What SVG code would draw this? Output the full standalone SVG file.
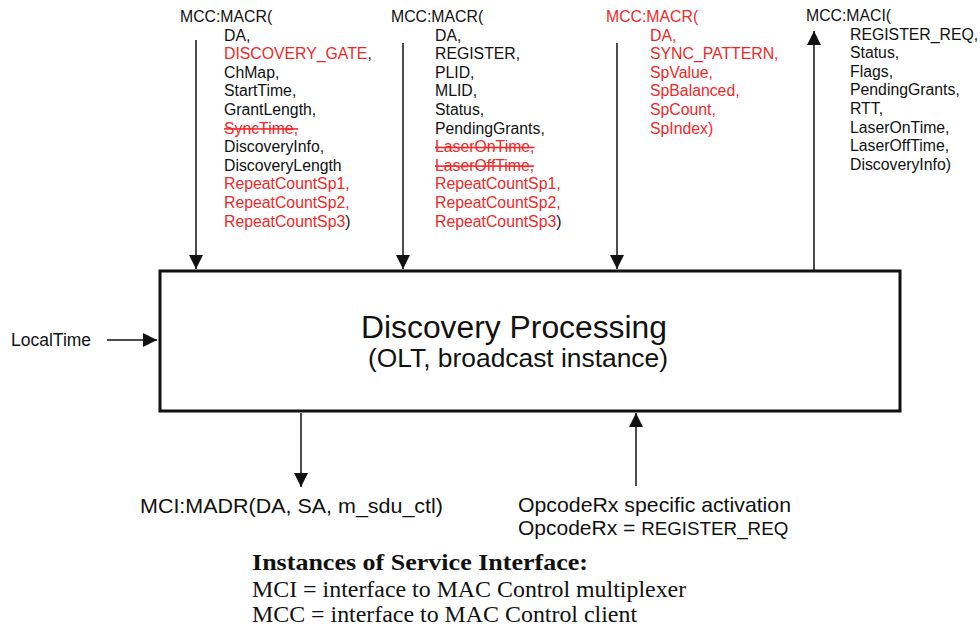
<svg xmlns="http://www.w3.org/2000/svg" width="980" height="627" viewBox="0 0 980 627">
<style>
.t{font-family:"Liberation Sans",Arial,sans-serif;font-size:15.8px;fill:#111}
.r{fill:#f02828}
.s{text-decoration:line-through}
.big{font-family:"Liberation Sans",Arial,sans-serif;fill:#111;text-anchor:middle}
.b{font-family:"Liberation Sans",Arial,sans-serif;font-size:21px;fill:#111}
.tm{font-family:"Liberation Serif","Times New Roman",serif;font-size:23.9px;fill:#111}
.ln{stroke:#111;stroke-width:1.5;fill:none}
</style>
<defs>
<marker id="ah" viewBox="0 0 10 10" refX="10" refY="5" markerWidth="14" markerHeight="14" markerUnits="userSpaceOnUse" orient="auto">
<path d="M0,0 L10,5 L0,10 Z" fill="#111"/>
</marker>
</defs>
<g id="connectors">
<line class="ln" x1="196" y1="40" x2="196" y2="269" marker-end="url(#ah)"/>
<line class="ln" x1="403" y1="43" x2="403" y2="269" marker-end="url(#ah)"/>
<line class="ln" x1="617" y1="43" x2="617" y2="269" marker-end="url(#ah)"/>
<line class="ln" x1="814" y1="270" x2="814" y2="31" marker-end="url(#ah)"/>
<line class="ln" x1="107" y1="340" x2="157" y2="340" marker-end="url(#ah)"/>
<line class="ln" x1="301" y1="413" x2="301" y2="487" marker-end="url(#ah)"/>
<line class="ln" x1="636" y1="486" x2="636" y2="413" marker-end="url(#ah)"/>
</g>
<g id="main">
<rect x="160" y="271" width="740" height="140" fill="#fff" stroke="#111" stroke-width="3"/>
<text class="big" x="514" y="338" font-size="31" textLength="306" lengthAdjust="spacingAndGlyphs">Discovery Processing</text>
<text class="big" x="518" y="367" font-size="25" textLength="300" lengthAdjust="spacingAndGlyphs">(OLT, broadcast instance)</text>
</g>
<g id="localtime">
<text class="t" x="11" y="346" style="font-size:17.5px">LocalTime</text>
</g>
<g id="macr1">
<text class="t" x="180" y="22">MCC:MACR(</text>
<text class="t" x="224" y="40.6">DA,</text>
<text class="t" x="224" y="59.2"><tspan class="r">DISCOVERY_GATE</tspan>,</text>
<text class="t" x="224" y="77.8">ChMap,</text>
<text class="t" x="224" y="96.4">StartTime,</text>
<text class="t" x="224" y="115">GrantLength,</text>
<text class="t r s" x="224" y="133.6">SyncTime,</text>
<text class="t" x="224" y="152.2">DiscoveryInfo,</text>
<text class="t" x="224" y="170.8">DiscoveryLength</text>
<text class="t r" x="224" y="189.4">RepeatCountSp1,</text>
<text class="t r" x="224" y="208">RepeatCountSp2,</text>
<text class="t" x="224" y="226.6"><tspan class="r">RepeatCountSp3</tspan>)</text>
</g>
<g id="macr2">
<text class="t" x="391" y="22">MCC:MACR(</text>
<text class="t" x="435" y="40.6">DA,</text>
<text class="t" x="435" y="59.2">REGISTER,</text>
<text class="t" x="435" y="77.8">PLID,</text>
<text class="t" x="435" y="96.4">MLID,</text>
<text class="t" x="435" y="115">Status,</text>
<text class="t" x="435" y="133.6">PendingGrants,</text>
<text class="t r s" x="435" y="152.2">LaserOnTime, </text>
<text class="t r s" x="435" y="170.8">LaserOffTime,</text>
<text class="t r" x="435" y="189.4">RepeatCountSp1,</text>
<text class="t r" x="435" y="208">RepeatCountSp2,</text>
<text class="t" x="435" y="226.6"><tspan class="r">RepeatCountSp3</tspan>)</text>
</g>
<g id="macr3">
<text class="t r" x="606" y="22">MCC:MACR(</text>
<text class="t r" x="650" y="40.6">DA,</text>
<text class="t r" x="650" y="59.2">SYNC_PATTERN,</text>
<text class="t r" x="650" y="77.8">SpValue,</text>
<text class="t r" x="650" y="96.4">SpBalanced,</text>
<text class="t r" x="650" y="115">SpCount,</text>
<text class="t r" x="650" y="133.6">SpIndex)</text>
</g>
<g id="maci">
<text class="t" x="806" y="21">MCC:MACI(</text>
<text class="t" x="850" y="39.6">REGISTER_REQ,</text>
<text class="t" x="850" y="58.2">Status,</text>
<text class="t" x="850" y="76.8">Flags,</text>
<text class="t" x="850" y="95.4">PendingGrants,</text>
<text class="t" x="850" y="114">RTT,</text>
<text class="t" x="850" y="132.6">LaserOnTime,</text>
<text class="t" x="850" y="151.2">LaserOffTime,</text>
<text class="t" x="850" y="169.8">DiscoveryInfo)</text>
</g>
<g id="madr">
<text class="b" x="140" y="513" textLength="303" lengthAdjust="spacingAndGlyphs">MCI:MADR(DA, SA, m_sdu_ctl)</text>
</g>
<g id="opcode">
<text class="b" x="518" y="512" textLength="273" lengthAdjust="spacingAndGlyphs">OpcodeRx specific activation</text>
<text class="b" x="518" y="535">OpcodeRx = <tspan style="font-size:18.8px">REGISTER_REQ</tspan></text>
</g>
<g id="legend">
<text class="tm" x="252" y="570" font-weight="bold" textLength="336" lengthAdjust="spacingAndGlyphs">Instances of Service Interface:</text>
<text class="tm" x="252" y="597">MCI = interface to MAC Control multiplexer</text>
<text class="tm" x="252" y="622">MCC = interface to MAC Control client</text>
</g>
</svg>
